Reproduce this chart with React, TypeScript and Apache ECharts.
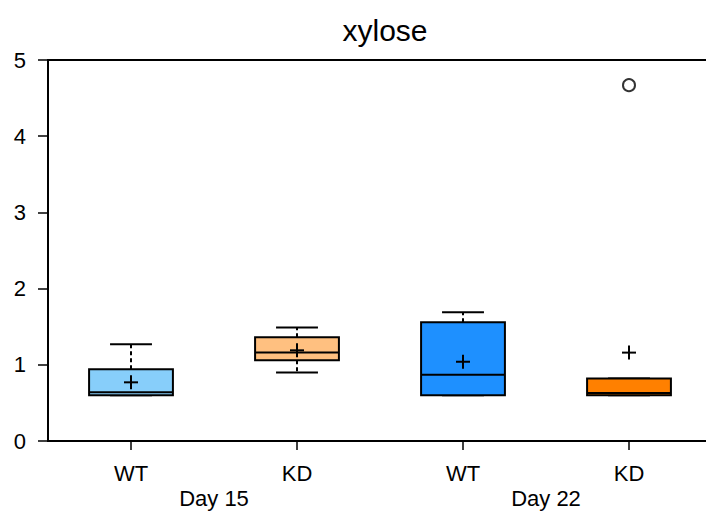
import React, { useEffect, useRef } from "react";
import * as echarts from "echarts";

const categories = ["WT", "KD", "WT", "KD"];
const days = ["Day 15", "Day 22"];
const mins = [0.6, 0.9, 0.6, 0.6];
const q1s = [0.6, 1.06, 0.6, 0.6];
const medians = [0.64, 1.16, 0.87, 0.63];
const q3s = [0.94, 1.36, 1.56, 0.82];
const maxs = [1.27, 1.49, 1.69, 0.82];
const means = [0.77, 1.19, 1.04, 1.16];
const outliers: [number, number][] = [[3, 4.67]];
const boxColors = ["#87CEFA", "#FFC080", "#1E90FF", "#FF8000"];
const yTicks = [0, 1, 2, 3, 4, 5];

export default function App() {
  const ref = useRef<HTMLDivElement>(null);
  useEffect(() => {
    if (!ref.current) return;
    const chart = echarts.init(ref.current, undefined, { renderer: "svg" });
    const font = "'Liberation Sans', Arial, Helvetica, sans-serif";
    const boxData = categories.map((_, i) => [i, mins[i], q1s[i], medians[i], q3s[i], maxs[i], means[i]]);
    chart.setOption({
      animation: false,
      textStyle: { fontFamily: font, color: "#000" },
      title: {
        text: "xylose",
        left: 380,
        textAlign: "center",
        top: 10,
        textStyle: { fontFamily: font, fontSize: 30, fontWeight: "normal", color: "#000" },
      },
      grid: {
        left: 48,
        top: 60,
        width: 664,
        height: 381,
        outerBoundsMode: "none",
        containLabel: false,
        show: true,
        borderColor: "#000",
        borderWidth: 2,
        backgroundColor: "transparent",
      },
      xAxis: [
        {
          type: "category",
          data: categories,
          position: "bottom",
          axisLine: { show: true, lineStyle: { color: "#000", width: 2 } },
          axisTick: { show: true, alignWithLabel: true, length: 9, lineStyle: { color: "#000", width: 1.5 } },
          axisLabel: { margin: 21, fontSize: 22, color: "#000", fontFamily: font },
          splitLine: { show: false },
        },
        {
          type: "category",
          data: days,
          position: "bottom",
          axisLine: { show: false },
          axisTick: { show: false },
          axisLabel: { margin: 46, fontSize: 22, color: "#000", fontFamily: font },
          splitLine: { show: false },
        },
      ],
      yAxis: {
        type: "value",
        min: yTicks[0],
        max: yTicks[yTicks.length - 1],
        interval: 1,
        axisLine: { show: true, lineStyle: { color: "#000", width: 2 } },
        axisTick: { show: true, length: 10, lineStyle: { color: "#000", width: 1.5 } },
        axisLabel: { margin: 22, fontSize: 22, color: "#000", fontFamily: font },
        splitLine: { show: false },
      },
      series: [
        {
          type: "custom",
          xAxisIndex: 0,
          yAxisIndex: 0,
          data: boxData,
          renderItem: (params: any, api: any) => {
            const i = api.value(0);
            const band = api.size([1, 0])[0];
            const bw = band * 0.505;
            const cw = bw / 2;
            const cx = api.coord([i, 0])[0];
            const yMin = api.coord([i, api.value(1)])[1];
            const yQ1 = api.coord([i, api.value(2)])[1];
            const yMed = api.coord([i, api.value(3)])[1];
            const yQ3 = api.coord([i, api.value(4)])[1];
            const yMax = api.coord([i, api.value(5)])[1];
            const yMean = api.coord([i, api.value(6)])[1];
            const line = { stroke: "#000", lineWidth: 2 };
            const dash = { stroke: "#000", lineWidth: 2, lineDash: [4, 3] };
            const pm = 7;
            return {
              type: "group",
              children: [
                { type: "line", shape: { x1: cx, y1: yQ3, x2: cx, y2: yMax }, style: dash },
                { type: "line", shape: { x1: cx, y1: yQ1, x2: cx, y2: yMin }, style: dash },
                { type: "line", shape: { x1: cx - cw / 2, y1: yMax, x2: cx + cw / 2, y2: yMax }, style: line },
                { type: "line", shape: { x1: cx - cw / 2, y1: yMin, x2: cx + cw / 2, y2: yMin }, style: line },
                {
                  type: "rect",
                  shape: { x: cx - bw / 2, y: yQ3, width: bw, height: yQ1 - yQ3 },
                  style: { fill: boxColors[i], stroke: "#000", lineWidth: 2 },
                },
                { type: "line", shape: { x1: cx - bw / 2, y1: yMed, x2: cx + bw / 2, y2: yMed }, style: line },
                { type: "line", shape: { x1: cx - pm, y1: yMean, x2: cx + pm, y2: yMean }, style: line },
                { type: "line", shape: { x1: cx, y1: yMean - pm, x2: cx, y2: yMean + pm }, style: line },
              ],
            };
          },
          z: 2,
        },
        {
          type: "scatter",
          xAxisIndex: 0,
          yAxisIndex: 0,
          data: outliers,
          symbol: "circle",
          symbolSize: 12,
          itemStyle: { color: "#fff", borderColor: "#000", borderWidth: 2 },
          z: 3,
        },
      ],
    });
    return () => chart.dispose();
  }, []);
  return (
    <div
      ref={ref}
      style={{ position: "fixed", left: 0, top: 0, width: 706, height: 519, background: "#fff" }}
    />
  );
}
